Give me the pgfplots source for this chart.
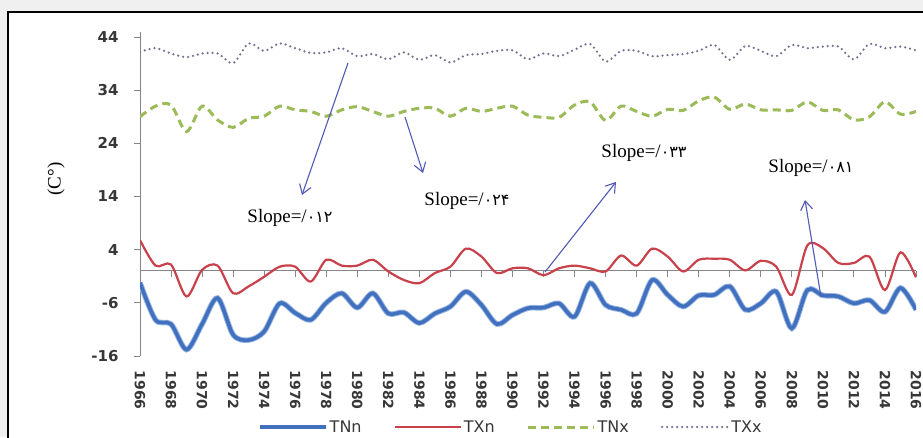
\documentclass[border=0pt]{standalone}
\usepackage{fontspec}
\setmainfont{DejaVu Sans}
\newfontfamily\serif{Liberation Serif}
\newfontfamily\fa[Script=Arabic]{DejaVu Sans}
\usepackage{pgfplots}
\usepackage{pgfplotstable}
\pgfplotsset{compat=1.18}
\usetikzlibrary{arrows.meta}

\definecolor{cTNn}{RGB}{65,113,190}
\definecolor{cTNnglow}{RGB}{150,180,225}
\definecolor{cTXn}{RGB}{200,65,75}
\definecolor{cTNx}{RGB}{155,187,89}
\definecolor{cTXx}{RGB}{115,115,145}
\definecolor{axisgray}{RGB}{134,134,134}
\definecolor{ticktext}{RGB}{55,55,55}
\definecolor{bggray}{RGB}{240,240,240}
\definecolor{arrowc}{RGB}{80,90,180}

\pgfplotstableread{
year TNn TXn TNx TXx
1966 -2.2 5.8 29.0 41.2
1967 -9.2 1.0 31.0 41.9
1968 -10.0 1.2 31.2 40.9
1969 -14.8 -4.8 26.2 40.2
1970 -10.0 0.2 31.0 40.9
1971 -5.1 1.0 28.4 40.9
1972 -12.0 -4.2 27.0 39.1
1973 -13.0 -2.9 28.7 42.8
1974 -11.4 -1.1 29.1 41.4
1975 -6.1 0.8 31.0 42.8
1976 -7.9 0.8 30.3 41.9
1977 -9.2 -2.0 30.0 41.0
1978 -6.0 2.1 29.1 41.1
1979 -4.2 1.0 30.3 41.9
1980 -6.9 1.0 30.9 40.4
1981 -4.2 2.1 30.0 40.8
1982 -8.0 -0.1 29.1 39.8
1983 -7.8 -1.7 30.0 41.1
1984 -9.8 -2.3 30.6 39.7
1985 -8.0 -0.4 30.6 40.6
1986 -6.7 0.8 29.1 39.2
1987 -3.9 4.2 30.6 40.6
1988 -6.4 2.7 30.0 40.8
1989 -10.0 -0.4 30.6 41.4
1990 -8.3 0.5 31.0 41.5
1991 -7.0 0.5 29.3 39.8
1992 -6.9 -0.8 28.9 40.9
1993 -6.1 0.5 28.9 40.4
1994 -8.6 1.0 31.2 41.6
1995 -2.3 0.5 31.8 42.7
1996 -6.4 -0.1 28.3 39.4
1997 -7.3 2.9 31.0 41.4
1998 -8.0 1.0 30.0 41.4
1999 -1.7 4.2 29.1 40.4
2000 -4.5 2.7 30.4 40.6
2001 -6.7 -0.1 30.2 40.8
2002 -4.6 2.1 32.0 41.4
2003 -4.5 2.3 32.7 42.5
2004 -2.9 2.1 30.4 39.7
2005 -7.3 0.1 31.4 42.3
2006 -6.1 1.9 30.3 41.4
2007 -3.9 0.8 30.3 40.4
2008 -10.8 -4.5 30.2 42.5
2009 -3.6 4.8 31.8 41.9
2010 -4.6 4.3 30.2 42.2
2011 -4.8 1.5 30.3 42.2
2012 -6.1 1.5 28.4 39.8
2013 -5.5 2.7 29.0 42.7
2014 -7.7 -3.6 31.8 41.9
2015 -3.2 3.5 29.5 42.2
2016 -7.3 -1.2 30.0 41.5
}\data

\pgfplotsset{
  common/.style={
    scale only axis, width=776pt, height=324.3pt,
    at={(140pt,81pt)}, anchor=south west,
    xmin=1966, xmax=2016, ymin=-16, ymax=45,
    /pgf/number format/.cd, 1000 sep={}, assume math mode=true, /pgfplots/.cd,
  }
}

\begin{document}
\begin{tikzpicture}
\useasboundingbox (0,0) rectangle (923pt,437pt);
\clip (0,0) rectangle (923pt,437pt);
\fill[bggray] (0,0) rectangle (923pt,437pt);
\draw[line width=2pt, fill=white] (8pt,-20pt) rectangle (950pt,425pt);

% zero line with ticks
\begin{axis}[common,
  axis x line=middle, axis y line=none,
  xtick={1966,1968,...,2016}, xticklabels={}, ytick=\empty,
  x axis line style={-, draw=axisgray, line width=0.9pt},
  xtick style={draw=axisgray, line width=0.9pt},
  xtick align=outside, major tick length=6pt]
\end{axis}

\begin{axis}[common,
  axis y line*=left, axis x line*=bottom,
  x axis line style={draw=none}, xtick style={draw=none},
  y axis line style={-, draw=axisgray, line width=0.9pt},
  ytick style={draw=axisgray, line width=0.9pt},
  ytick align=outside, major tick length=6pt,
  xtick={1966,1968,...,2016},
  ytick={-16,-6,4,14,24,34,44},
  yticklabel style={font=\fontsize{15}{15}\selectfont\bfseries, text=ticktext},
  xticklabel style={rotate=-90, anchor=west, font=\fontsize{14}{14}\selectfont\bfseries, text=ticktext},
  yticklabel shift=12pt,
  xticklabel shift=11pt,
  legend style={at={(axis description cs:0.152,-0.219)}, anchor=west,
    draw=none, fill=none, legend columns=4, inner sep=0pt,
    font=\fontsize{16}{16}\selectfont, text=ticktext,
    /tikz/every even column/.append style={column sep=30pt}},
  legend image code/.code={\draw[#1] plot coordinates {(0pt,0pt) (33pt,0pt) (66pt,0pt)};},
]
\addplot[cTNnglow, line width=5.5pt, smooth, forget plot] table[x=year,y=TNn]{\data};
\addplot[cTNn, line width=3.6pt, smooth] table[x=year,y=TNn]{\data};
\addlegendentry{TNn}
\addplot[cTXn, line width=2.2pt, smooth] table[x=year,y=TXn]{\data};
\addlegendentry{TXn}
\addplot[cTNx, line width=3pt, smooth, dash pattern=on 8pt off 5pt] table[x=year,y=TNx]{\data};
\addlegendentry{TNx}
\addplot[cTXx, line width=2.5pt, smooth, line cap=round, dash pattern=on 0pt off 5pt] table[x=year,y=TXx]{\data};
\addlegendentry{TXx}
\end{axis}

% y label
\node[rotate=90, font=\serif\fontsize{19}{19}\selectfont] at (56pt,258pt) {(C°)};

% annotations
\begin{scope}[arrowc, line width=1.1pt, -{Straight Barb[length=9pt,width=12pt]}]
\draw (348pt,374pt) -- (302pt,242pt);
\draw (405pt,320pt) -- (423pt,264pt);
\draw (545pt,165pt) -- (616pt,255pt);
\draw (821pt,140pt) -- (805pt,237pt);
\end{scope}
\node[font=\serif\fontsize{19}{19}\selectfont] at (290pt,219pt) {Slope=/{\fa\fontsize{16}{16}\selectfont ۰۱۲}};
\node[font=\serif\fontsize{19}{19}\selectfont] at (467pt,236pt) {Slope=/{\fa\fontsize{16}{16}\selectfont ۰۲۴}};
\node[font=\serif\fontsize{19}{19}\selectfont] at (644pt,284pt) {Slope=/{\fa\fontsize{16}{16}\selectfont ۰۳۳}};
\node[font=\serif\fontsize{19}{19}\selectfont] at (811pt,269pt) {Slope=/{\fa\fontsize{16}{16}\selectfont ۰۸۱}};
\end{tikzpicture}
\end{document}
